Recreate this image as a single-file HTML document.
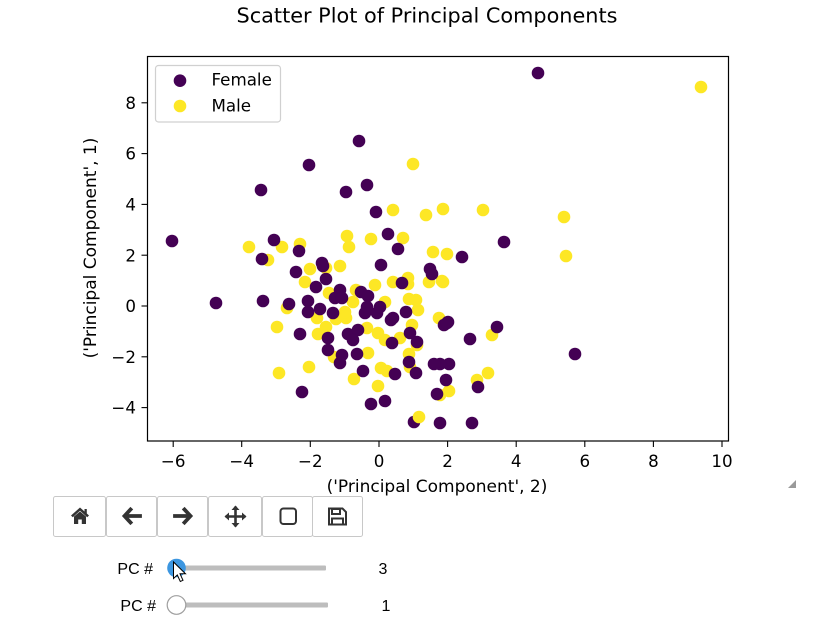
<!DOCTYPE html>
<html><head><meta charset="utf-8"><style>
html,body{margin:0;padding:0;background:#fff;}
body{width:836px;height:625px;overflow:hidden;}
svg{display:block;}
</style></head><body>
<svg width="836" height="625" viewBox="0 0 836 625" xmlns="http://www.w3.org/2000/svg">
<rect width="836" height="625" fill="#fff"/>
<text x="427" y="22.7" font-family="DejaVu Sans, sans-serif" font-size="20.8" text-anchor="middle" fill="#000">Scatter Plot of Principal Components</text>

<g fill="#fde725">
<circle cx="701" cy="87" r="6.3"/><circle cx="413" cy="164" r="6.3"/><circle cx="393" cy="210" r="6.3"/><circle cx="426" cy="215" r="6.3"/><circle cx="443" cy="209" r="6.3"/><circle cx="483" cy="210" r="6.3"/><circle cx="564" cy="217" r="6.3"/><circle cx="447" cy="254" r="6.3"/><circle cx="566" cy="256" r="6.3"/><circle cx="249" cy="247" r="6.3"/><circle cx="282" cy="247" r="6.3"/><circle cx="300" cy="244" r="6.3"/><circle cx="347" cy="236" r="6.3"/><circle cx="349" cy="247" r="6.3"/><circle cx="371" cy="239" r="6.3"/><circle cx="403" cy="238" r="6.3"/><circle cx="433" cy="252" r="6.3"/><circle cx="443" cy="282" r="6.3"/><circle cx="492" cy="335" r="6.3"/><circle cx="488" cy="373" r="6.3"/><circle cx="477" cy="380" r="6.3"/><circle cx="449" cy="391" r="6.3"/><circle cx="440" cy="395" r="6.3"/><circle cx="268" cy="260" r="6.3"/><circle cx="310" cy="269" r="6.3"/><circle cx="326" cy="268" r="6.3"/><circle cx="340" cy="266" r="6.3"/><circle cx="408" cy="278" r="6.3"/><circle cx="393" cy="282" r="6.3"/><circle cx="408" cy="284" r="6.3"/><circle cx="429" cy="282" r="6.3"/><circle cx="442" cy="281" r="6.3"/><circle cx="305" cy="282" r="6.3"/><circle cx="329" cy="293" r="6.3"/><circle cx="356" cy="290" r="6.3"/><circle cx="375" cy="285" r="6.3"/><circle cx="353" cy="302" r="6.3"/><circle cx="385" cy="302" r="6.3"/><circle cx="287" cy="308" r="6.3"/><circle cx="317" cy="318" r="6.3"/><circle cx="336" cy="319" r="6.3"/><circle cx="346" cy="318" r="6.3"/><circle cx="345" cy="312" r="6.3"/><circle cx="409" cy="299" r="6.3"/><circle cx="416" cy="300" r="6.3"/><circle cx="418" cy="310" r="6.3"/><circle cx="439" cy="318" r="6.3"/><circle cx="277" cy="327" r="6.3"/><circle cx="318" cy="334" r="6.3"/><circle cx="326" cy="327" r="6.3"/><circle cx="367" cy="328" r="6.3"/><circle cx="378" cy="333" r="6.3"/><circle cx="385" cy="340" r="6.3"/><circle cx="400" cy="338" r="6.3"/><circle cx="412" cy="325" r="6.3"/><circle cx="417" cy="345" r="6.3"/><circle cx="334" cy="357" r="6.3"/><circle cx="368" cy="353" r="6.3"/><circle cx="409" cy="354" r="6.3"/><circle cx="410" cy="367" r="6.3"/><circle cx="309" cy="367" r="6.3"/><circle cx="279" cy="373" r="6.3"/><circle cx="354" cy="379" r="6.3"/><circle cx="381" cy="368" r="6.3"/><circle cx="387" cy="371" r="6.3"/><circle cx="378" cy="386" r="6.3"/>
</g>
<g fill="#440154">
<circle cx="538" cy="73" r="6.3"/><circle cx="359" cy="141" r="6.3"/><circle cx="309" cy="165" r="6.3"/><circle cx="261" cy="190" r="6.3"/><circle cx="346" cy="192" r="6.3"/><circle cx="367" cy="185" r="6.3"/><circle cx="376" cy="212" r="6.3"/><circle cx="504" cy="242" r="6.3"/><circle cx="462" cy="257" r="6.3"/><circle cx="172" cy="241" r="6.3"/><circle cx="274" cy="240" r="6.3"/><circle cx="299" cy="251" r="6.3"/><circle cx="388" cy="234" r="6.3"/><circle cx="398" cy="249" r="6.3"/><circle cx="448" cy="322" r="6.3"/><circle cx="444" cy="325" r="6.3"/><circle cx="497" cy="327" r="6.3"/><circle cx="470" cy="339" r="6.3"/><circle cx="575" cy="354" r="6.3"/><circle cx="449" cy="364" r="6.3"/><circle cx="440" cy="364" r="6.3"/><circle cx="434" cy="364" r="6.3"/><circle cx="446" cy="380" r="6.3"/><circle cx="478" cy="387" r="6.3"/><circle cx="437" cy="394" r="6.3"/><circle cx="472" cy="423" r="6.3"/><circle cx="440" cy="423" r="6.3"/><circle cx="414" cy="422" r="6.3"/><circle cx="262" cy="259" r="6.3"/><circle cx="296" cy="272" r="6.3"/><circle cx="322" cy="263" r="6.3"/><circle cx="323" cy="266" r="6.3"/><circle cx="381" cy="265" r="6.3"/><circle cx="430" cy="269" r="6.3"/><circle cx="432" cy="274" r="6.3"/><circle cx="402" cy="283" r="6.3"/><circle cx="326" cy="279" r="6.3"/><circle cx="316" cy="287" r="6.3"/><circle cx="340" cy="290" r="6.3"/><circle cx="335" cy="298" r="6.3"/><circle cx="342" cy="298" r="6.3"/><circle cx="361" cy="292" r="6.3"/><circle cx="368" cy="296" r="6.3"/><circle cx="289" cy="304" r="6.3"/><circle cx="263" cy="301" r="6.3"/><circle cx="216" cy="303" r="6.3"/><circle cx="308" cy="301" r="6.3"/><circle cx="308" cy="312" r="6.3"/><circle cx="320" cy="309" r="6.3"/><circle cx="333" cy="313" r="6.3"/><circle cx="365" cy="313" r="6.3"/><circle cx="367" cy="307" r="6.3"/><circle cx="377" cy="313" r="6.3"/><circle cx="380" cy="307" r="6.3"/><circle cx="391" cy="320" r="6.3"/><circle cx="393" cy="318" r="6.3"/><circle cx="406" cy="312" r="6.3"/><circle cx="447" cy="323" r="6.3"/><circle cx="300" cy="334" r="6.3"/><circle cx="328" cy="338" r="6.3"/><circle cx="348" cy="334" r="6.3"/><circle cx="358" cy="330" r="6.3"/><circle cx="353" cy="340" r="6.3"/><circle cx="392" cy="343" r="6.3"/><circle cx="410" cy="333" r="6.3"/><circle cx="417" cy="342" r="6.3"/><circle cx="328" cy="350" r="6.3"/><circle cx="342" cy="355" r="6.3"/><circle cx="340" cy="363" r="6.3"/><circle cx="357" cy="354" r="6.3"/><circle cx="409" cy="362" r="6.3"/><circle cx="416" cy="373" r="6.3"/><circle cx="363" cy="371" r="6.3"/><circle cx="395" cy="374" r="6.3"/><circle cx="302" cy="392" r="6.3"/><circle cx="371" cy="404" r="6.3"/><circle cx="385" cy="401" r="6.3"/>
</g>
<circle cx="419" cy="417" r="6.3" fill="#fde725"/>

<rect x="147.5" y="56.5" width="581" height="384.5" fill="none" stroke="#000" stroke-width="1.2"/>

<g stroke="#000" stroke-width="1.1">
<line x1="173.2" y1="441" x2="173.2" y2="447"/><line x1="241.7" y1="441" x2="241.7" y2="447"/><line x1="310.3" y1="441" x2="310.3" y2="447"/><line x1="379" y1="441" x2="379" y2="447"/><line x1="447.6" y1="441" x2="447.6" y2="447"/><line x1="516.2" y1="441" x2="516.2" y2="447"/><line x1="584.8" y1="441" x2="584.8" y2="447"/><line x1="653.4" y1="441" x2="653.4" y2="447"/><line x1="722" y1="441" x2="722" y2="447"/>
<line x1="141.5" y1="102.8" x2="147.5" y2="102.8"/><line x1="141.5" y1="153.6" x2="147.5" y2="153.6"/><line x1="141.5" y1="204.4" x2="147.5" y2="204.4"/><line x1="141.5" y1="255.2" x2="147.5" y2="255.2"/><line x1="141.5" y1="306" x2="147.5" y2="306"/><line x1="141.5" y1="356.8" x2="147.5" y2="356.8"/><line x1="141.5" y1="407.6" x2="147.5" y2="407.6"/>
</g>
<g font-family="DejaVu Sans, sans-serif" font-size="16.7" fill="#000" text-anchor="middle">
<text x="173.2" y="467">−6</text><text x="241.7" y="467">−4</text><text x="310.3" y="467">−2</text><text x="379" y="467">0</text><text x="447.6" y="467">2</text><text x="516.2" y="467">4</text><text x="584.8" y="467">6</text><text x="653.4" y="467">8</text><text x="722" y="467">10</text>
</g>
<g font-family="DejaVu Sans, sans-serif" font-size="16.7" fill="#000" text-anchor="end">
<text x="136" y="108.9">8</text><text x="136" y="159.7">6</text><text x="136" y="210.5">4</text><text x="136" y="261.3">2</text><text x="136" y="312.1">0</text><text x="136" y="362.9">−2</text><text x="136" y="413.7">−4</text>
</g>
<text x="437" y="492" font-family="DejaVu Sans, sans-serif" font-size="17" text-anchor="middle" fill="#000">('Principal Component', 2)</text>
<text transform="translate(96,248) rotate(-90)" x="0" y="0" font-family="DejaVu Sans, sans-serif" font-size="17" text-anchor="middle" fill="#000">('Principal Component', 1)</text>

<rect x="155.5" y="65.5" width="125" height="56.5" rx="3" fill="#fff" fill-opacity="0.8" stroke="#d0d0d0" stroke-width="1.2"/>
<circle cx="180" cy="80.7" r="6.3" fill="#440154"/>
<circle cx="180" cy="106" r="6.3" fill="#fde725"/>
<text x="211.5" y="85.7" font-family="DejaVu Sans, sans-serif" font-size="16.7" fill="#000">Female</text>
<text x="211.5" y="111.3" font-family="DejaVu Sans, sans-serif" font-size="16.7" fill="#000">Male</text>

<polygon points="796,480 796,488 788,488" fill="#9a9a9a"/>

<g fill="#fff" stroke="#c8c8c8" stroke-width="1">
<rect x="53.5" y="496.5" width="52" height="40" rx="2"/>
<rect x="106.5" y="496.5" width="50" height="40" rx="2"/>
<rect x="157.5" y="496.5" width="50" height="40" rx="2"/>
<rect x="208.5" y="496.5" width="53" height="40" rx="2"/>
<rect x="262.5" y="496.5" width="50" height="40" rx="2"/>
<rect x="312.5" y="496.5" width="50" height="40" rx="2"/>
</g>
<g fill="#333" stroke="none">
<polygon points="80,507.5 71,515.5 72.8,517.2 80,510.8 87.2,517.2 89,515.5 86.8,513.5 86.8,509 84.5,509 84.5,511.5"/>
<polygon points="74,516.5 80,511.5 86,516.5 86,524 81.8,524 81.8,519.5 78.2,519.5 78.2,524 74,524"/>
</g>
<g fill="none" stroke="#333" stroke-width="3.8" stroke-linecap="square" stroke-linejoin="miter">
<polyline points="130.5,509.5 124.5,516 130.5,522.5"/>
<line x1="126" y1="516" x2="140" y2="516"/>
<polyline points="184.5,509.5 190.5,516 184.5,522.5"/>
<line x1="175" y1="516" x2="189" y2="516"/>
</g>
<g stroke="#333" stroke-width="2.6" fill="#333">
<line x1="225.5" y1="516.5" x2="245.5" y2="516.5"/>
<line x1="235.5" y1="506.5" x2="235.5" y2="526.5"/>
</g>
<g fill="#333">
<polygon points="224.5,516.5 229,512.5 229,520.5"/>
<polygon points="246.5,516.5 242,512.5 242,520.5"/>
<polygon points="235.5,505.5 231.5,510 239.5,510"/>
<polygon points="235.5,527.5 231.5,523 239.5,523"/>
</g>
<rect x="280.5" y="508.5" width="15.5" height="15.5" rx="3" fill="none" stroke="#333" stroke-width="2"/>
<g fill="none" stroke="#333" stroke-width="2">
<path d="M329,508.5 h13.5 l3.5,3.5 v12.5 h-17 z"/>
<rect x="332" y="509" width="8" height="5"/>
<rect x="332" y="518.5" width="11" height="6"/>
</g>

<g font-family="Liberation Sans, Arial, sans-serif" font-size="16" fill="#000">
<text x="153" y="574" text-anchor="end">PC #</text>
<text x="156" y="611" text-anchor="end">PC #</text>
<text x="383" y="574" text-anchor="middle">3</text>
<text x="386" y="611" text-anchor="middle">1</text>
</g>
<rect x="173" y="565.5" width="153" height="5" rx="1" fill="#bdbdbd"/>
<rect x="176" y="602.5" width="152" height="5" rx="1" fill="#bdbdbd"/>
<circle cx="176.5" cy="568" r="9.3" fill="#3c96e0"/>
<circle cx="176.5" cy="605" r="9.3" fill="#fff" stroke="#9e9e9e" stroke-width="1.2"/>
<polygon points="173.5,562 173.5,578.5 177.3,575 180.3,581.5 183,580.3 180,573.8 185.5,573.8" fill="#fff" stroke="#000" stroke-width="1"/>
</svg>
</body></html>
